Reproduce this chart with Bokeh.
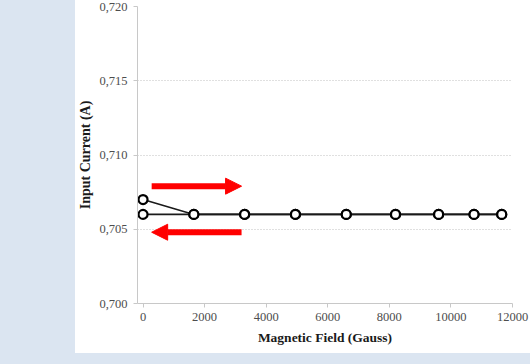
from bokeh.plotting import figure
from bokeh.models import (Range1d, FixedTicker, CustomJSTickFormatter, Arrow,
                          NormalHead, Div, ColumnDataSource)
from bokeh.layouts import row, column
from bokeh.embed import file_html
from bokeh.resources import INLINE

# ---- data ----
field_gauss = [0, 1650, 3300, 4950, 6600, 8200, 9600, 10750, 11650]
current_increasing = [0.707, 0.706, 0.706, 0.706, 0.706, 0.706, 0.706, 0.706, 0.706]
current_decreasing = [0.706, 0.706, 0.706, 0.706, 0.706, 0.706, 0.706, 0.706, 0.706]
x_ticks = [0, 2000, 4000, 6000, 8000, 10000, 12000]
y_ticks = [0.700, 0.705, 0.710, 0.715, 0.720]
x_title = "Magnetic Field (Gauss)"
y_title = "Input Current (A)"

# direction arrows (field up -> , field down <-)
arrow_up = dict(x0=280, x1=3200, y=0.7079)
arrow_down = dict(x0=3200, x1=280, y=0.7048)

BLUE = "#dbe5f1"
FONT = "Liberation Serif"

p = figure(width=455, height=353, output_backend="svg", toolbar_location=None,
           x_range=Range1d(-180, 12000), y_range=Range1d(0.700, 0.720),
           min_border_left=62, min_border_right=18, min_border_top=6,
           min_border_bottom=50, margin=0)
p.outline_line_color = None
p.background_fill_color = "white"
p.border_fill_color = "white"

src_up = ColumnDataSource(dict(x=field_gauss, y=current_increasing))
src_dn = ColumnDataSource(dict(x=field_gauss, y=current_decreasing))
for src in (src_up, src_dn):
    p.line("x", "y", source=src, line_color="#1a1a1a", line_width=1.6)
for src in (src_up, src_dn):
    p.scatter("x", "y", source=src, marker="circle", size=9,
              fill_color="white", line_color="black", line_width=2.2)

for a in (arrow_up, arrow_down):
    p.add_layout(Arrow(end=NormalHead(size=16, fill_color="#ff0000",
                                      line_color="#ff0000", line_width=1),
                       x_start=a["x0"], x_end=a["x1"], y_start=a["y"], y_end=a["y"],
                       line_color="#ff0000", line_width=6))

# axes
p.xaxis.ticker = FixedTicker(ticks=x_ticks)
p.yaxis.ticker = FixedTicker(ticks=y_ticks)
p.yaxis.formatter = CustomJSTickFormatter(code="return tick.toFixed(3).replace('.', ',');")
p.xaxis.axis_label = x_title
p.yaxis.axis_label = y_title
for ax in (p.xaxis, p.yaxis):
    ax.axis_line_color = "#c8c8c8"
    ax.major_tick_line_color = "#c8c8c8"
    ax.major_tick_out = 4
    ax.major_tick_in = 0
    ax.minor_tick_line_color = None
    ax.major_label_text_font = FONT
    ax.major_label_text_font_size = "12.5px"
    ax.major_label_text_color = "#4d4d4d"
    ax.axis_label_text_font = FONT
    ax.axis_label_text_font_style = "bold"
    ax.axis_label_text_color = "#1a1a1a"
p.xaxis.axis_label_text_font_size = "13.5px"
p.yaxis.axis_label_text_font_size = "14px"
p.xaxis.major_label_standoff = 5
p.xaxis.axis_label_standoff = 6
p.yaxis.major_label_standoff = 6
p.yaxis.axis_label_standoff = 3

p.xgrid.visible = False
p.ygrid.grid_line_color = "#c0c0c0"
p.ygrid.grid_line_dash = "1 2"
p.ygrid.grid_line_width = 1

left_strip = Div(text="", width=75, height=353, margin=0,
                 styles={"background-color": BLUE})
bottom_strip = Div(text="", width=530, height=11, margin=0,
                   styles={"background-color": BLUE})
layout = column(row(left_strip, p, spacing=0, margin=0), bottom_strip,
                spacing=0, margin=0)

open("out.html", "w").write(file_html(layout, INLINE))
